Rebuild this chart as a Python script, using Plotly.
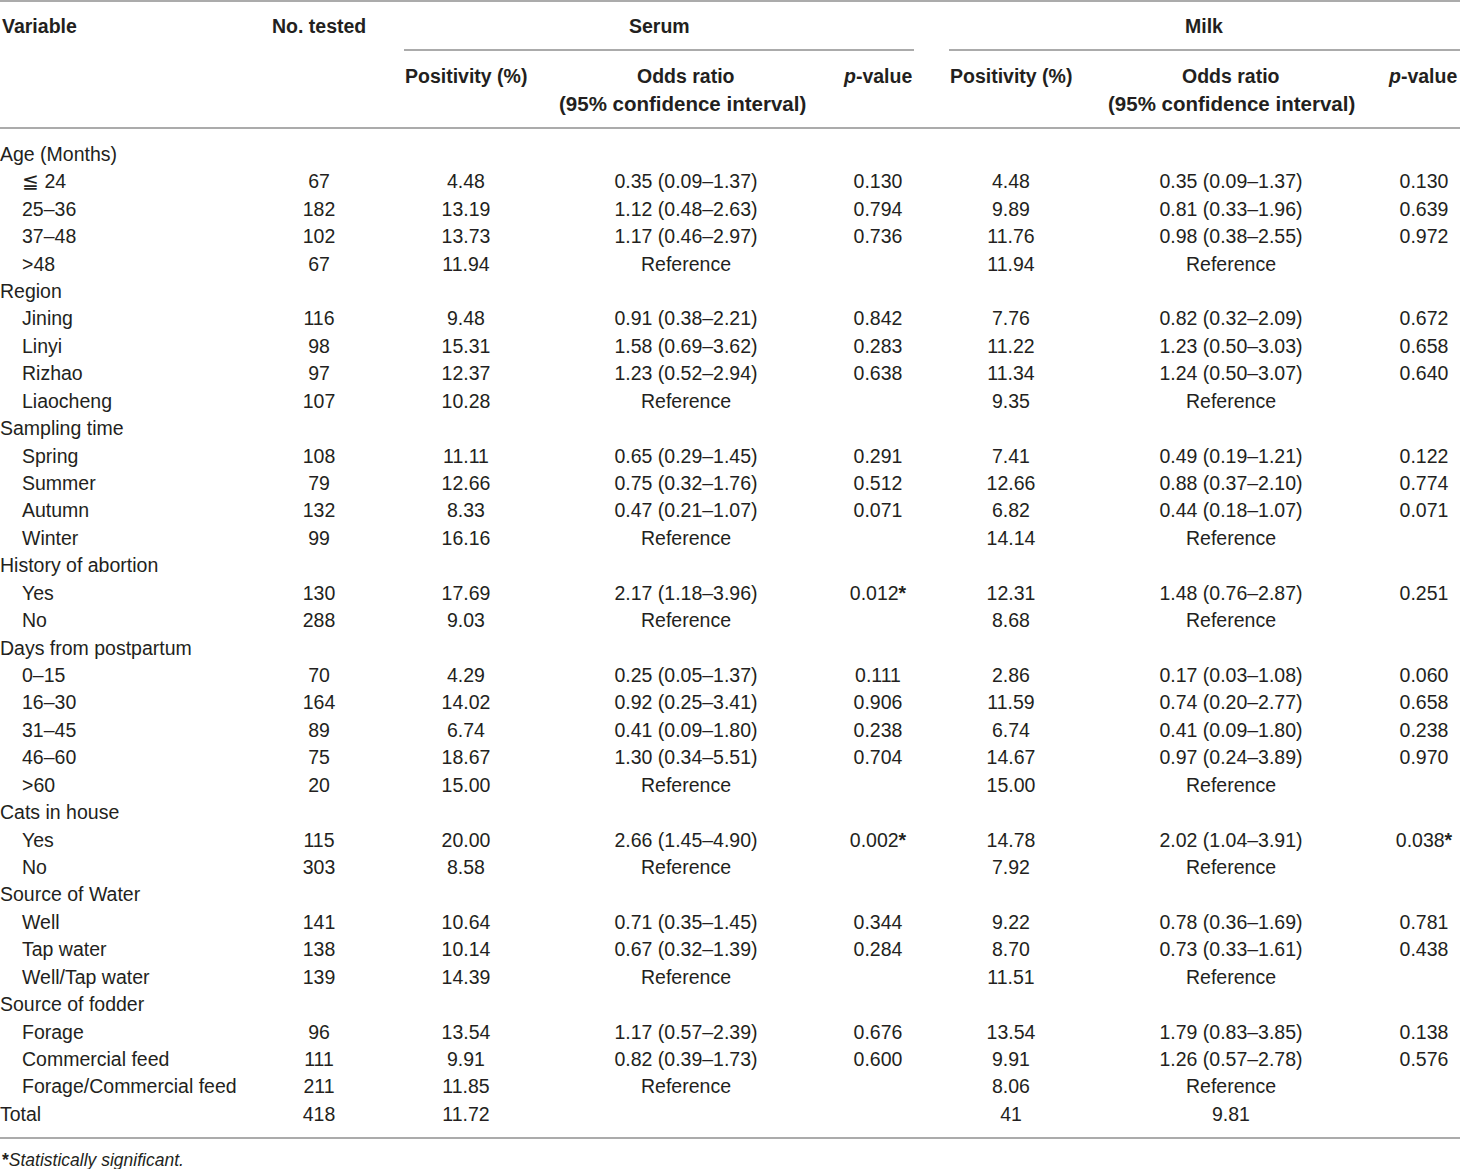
import plotly.graph_objects as go

# Table data: seroprevalence risk factors (serum and milk)
variables = [
    "Age (Months)", "≦ 24", "25–36", "37–48", ">48",
    "Region", "Jining", "Linyi", "Rizhao", "Liaocheng",
    "Sampling time", "Spring", "Summer", "Autumn", "Winter",
    "History of abortion", "Yes", "No",
    "Days from postpartum", "0–15", "16–30", "31–45", "46–60", ">60",
    "Cats in house", "Yes", "No",
    "Source of Water", "Well", "Tap water", "Well/Tap water",
    "Source of fodder", "Forage", "Commercial feed", "Forage/Commercial feed",
    "Total",
]
is_group = [
    True, False, False, False, False,
    True, False, False, False, False,
    True, False, False, False, False,
    True, False, False,
    True, False, False, False, False, False,
    True, False, False,
    True, False, False, False,
    True, False, False, False,
    True,
]
n_tested = [
    "", "67", "182", "102", "67",
    "", "116", "98", "97", "107",
    "", "108", "79", "132", "99",
    "", "130", "288",
    "", "70", "164", "89", "75", "20",
    "", "115", "303",
    "", "141", "138", "139",
    "", "96", "111", "211",
    "418",
]
serum_pos = [
    "", "4.48", "13.19", "13.73", "11.94",
    "", "9.48", "15.31", "12.37", "10.28",
    "", "11.11", "12.66", "8.33", "16.16",
    "", "17.69", "9.03",
    "", "4.29", "14.02", "6.74", "18.67", "15.00",
    "", "20.00", "8.58",
    "", "10.64", "10.14", "14.39",
    "", "13.54", "9.91", "11.85",
    "11.72",
]
serum_or = [
    "", "0.35 (0.09–1.37)", "1.12 (0.48–2.63)", "1.17 (0.46–2.97)", "Reference",
    "", "0.91 (0.38–2.21)", "1.58 (0.69–3.62)", "1.23 (0.52–2.94)", "Reference",
    "", "0.65 (0.29–1.45)", "0.75 (0.32–1.76)", "0.47 (0.21–1.07)", "Reference",
    "", "2.17 (1.18–3.96)", "Reference",
    "", "0.25 (0.05–1.37)", "0.92 (0.25–3.41)", "0.41 (0.09–1.80)", "1.30 (0.34–5.51)", "Reference",
    "", "2.66 (1.45–4.90)", "Reference",
    "", "0.71 (0.35–1.45)", "0.67 (0.32–1.39)", "Reference",
    "", "1.17 (0.57–2.39)", "0.82 (0.39–1.73)", "Reference",
    "",
]
serum_p = [
    "", "0.130", "0.794", "0.736", "",
    "", "0.842", "0.283", "0.638", "",
    "", "0.291", "0.512", "0.071", "",
    "", "0.012*", "",
    "", "0.111", "0.906", "0.238", "0.704", "",
    "", "0.002*", "",
    "", "0.344", "0.284", "",
    "", "0.676", "0.600", "",
    "",
]
milk_pos = [
    "", "4.48", "9.89", "11.76", "11.94",
    "", "7.76", "11.22", "11.34", "9.35",
    "", "7.41", "12.66", "6.82", "14.14",
    "", "12.31", "8.68",
    "", "2.86", "11.59", "6.74", "14.67", "15.00",
    "", "14.78", "7.92",
    "", "9.22", "8.70", "11.51",
    "", "13.54", "9.91", "8.06",
    "41",
]
milk_or = [
    "", "0.35 (0.09–1.37)", "0.81 (0.33–1.96)", "0.98 (0.38–2.55)", "Reference",
    "", "0.82 (0.32–2.09)", "1.23 (0.50–3.03)", "1.24 (0.50–3.07)", "Reference",
    "", "0.49 (0.19–1.21)", "0.88 (0.37–2.10)", "0.44 (0.18–1.07)", "Reference",
    "", "1.48 (0.76–2.87)", "Reference",
    "", "0.17 (0.03–1.08)", "0.74 (0.20–2.77)", "0.41 (0.09–1.80)", "0.97 (0.24–3.89)", "Reference",
    "", "2.02 (1.04–3.91)", "Reference",
    "", "0.78 (0.36–1.69)", "0.73 (0.33–1.61)", "Reference",
    "", "1.79 (0.83–3.85)", "1.26 (0.57–2.78)", "Reference",
    "9.81",
]
milk_p = [
    "", "0.130", "0.639", "0.972", "",
    "", "0.672", "0.658", "0.640", "",
    "", "0.122", "0.774", "0.071", "",
    "", "0.251", "",
    "", "0.060", "0.658", "0.238", "0.970", "",
    "", "0.038*", "",
    "", "0.781", "0.438", "",
    "", "0.138", "0.576", "",
    "",
]

# Layout constants (pixel-like axis units)
W, H = 1460, 1169
TOP, PITCH = 156, 27.43
FONT = "Liberation Sans, Arial, sans-serif"
FS = 19.5
INK = "#231f20"
RULE = "#8f8f8f"

col_x = {
    "n": 319, "s_pos": 466, "s_or": 686, "s_p": 878,
    "m_pos": 1011, "m_or": 1231, "m_p": 1424,
}

row_y = [TOP + i * PITCH for i in range(len(variables))]


def fmt_p(v):
    return v.replace("*", "<b>*</b>")


fig = go.Figure()

# variable labels: groups flush left, items indented
grp_idx = [i for i, g in enumerate(is_group) if g]
sub_idx = [i for i, g in enumerate(is_group) if not g]
fig.add_trace(go.Scatter(
    x=[0] * len(grp_idx), y=[row_y[i] for i in grp_idx],
    text=[variables[i] for i in grp_idx],
    mode="text", textposition="middle right",
    textfont=dict(family=FONT, size=FS, color=INK),
    hoverinfo="skip", cliponaxis=False,
))
fig.add_trace(go.Scatter(
    x=[22] * len(sub_idx), y=[row_y[i] for i in sub_idx],
    text=[variables[i] for i in sub_idx],
    mode="text", textposition="middle right",
    textfont=dict(family=FONT, size=FS, color=INK),
    hoverinfo="skip", cliponaxis=False,
))

columns = [
    ("n", n_tested), ("s_pos", serum_pos), ("s_or", serum_or),
    ("s_p", [fmt_p(v) for v in serum_p]), ("m_pos", milk_pos),
    ("m_or", milk_or), ("m_p", [fmt_p(v) for v in milk_p]),
]
for key, vals in columns:
    fig.add_trace(go.Scatter(
        x=[col_x[key]] * len(vals), y=row_y, text=vals,
        mode="text", textposition="middle center",
        textfont=dict(family=FONT, size=FS, color=INK),
        hoverinfo="skip", cliponaxis=False,
    ))

# header texts
hdr = dict(family=FONT, size=FS, color=INK)
annos = [
    dict(x=0, y=26, text="<b>Variable</b>", xanchor="left"),
    dict(x=319, y=26, text="<b>No. tested</b>", xanchor="center"),
    dict(x=659, y=26, text="<b>Serum</b>", xanchor="center"),
    dict(x=1204, y=26, text="<b>Milk</b>", xanchor="center"),
    dict(x=466, y=76, text="<b>Positivity (%)</b>", xanchor="center"),
    dict(x=686, y=76, text="<b>Odds ratio</b>", xanchor="center"),
    dict(x=682, y=103, text="<b>(95% confidence interval)</b>", xanchor="center",
         font=dict(family=FONT, size=20.5, color=INK)),
    dict(x=914, y=76, text="<b><i>p</i>-value</b>", xanchor="right"),
    dict(x=1011, y=76, text="<b>Positivity (%)</b>", xanchor="center"),
    dict(x=1231, y=76, text="<b>Odds ratio</b>", xanchor="center"),
    dict(x=1231, y=103, text="<b>(95% confidence interval)</b>", xanchor="center",
         font=dict(family=FONT, size=20.5, color=INK)),
    dict(x=1459, y=76, text="<b><i>p</i>-value</b>", xanchor="right"),
    dict(x=0, y=1160, text="<b>*</b><i>Statistically significant.</i>", xanchor="left",
         font=dict(family=FONT, size=17.5, color=INK)),
]
for a in annos:
    a.setdefault("font", hdr)
    fig.add_annotation(xref="x", yref="y", yanchor="middle", showarrow=False, **a)

# table rules
rules = [
    (0, 1460, 1), (404, 914, 50), (949, 1460, 50), (0, 1460, 128), (0, 1460, 1138),
]
for x0, x1, y in rules:
    fig.add_shape(type="line", xref="x", yref="y", x0=x0, x1=x1, y0=y, y1=y,
                  line=dict(color=RULE, width=1.5))

fig.update_layout(
    width=W, height=H,
    margin=dict(l=0, r=0, t=0, b=0),
    paper_bgcolor="white", plot_bgcolor="white",
    showlegend=False,
    xaxis=dict(range=[0, W], visible=False, fixedrange=True),
    yaxis=dict(range=[H, 0], visible=False, fixedrange=True),
)

fig.write_html("out.html", config={"displayModeBar": False},
               post_script="document.body.style.margin='0';")
